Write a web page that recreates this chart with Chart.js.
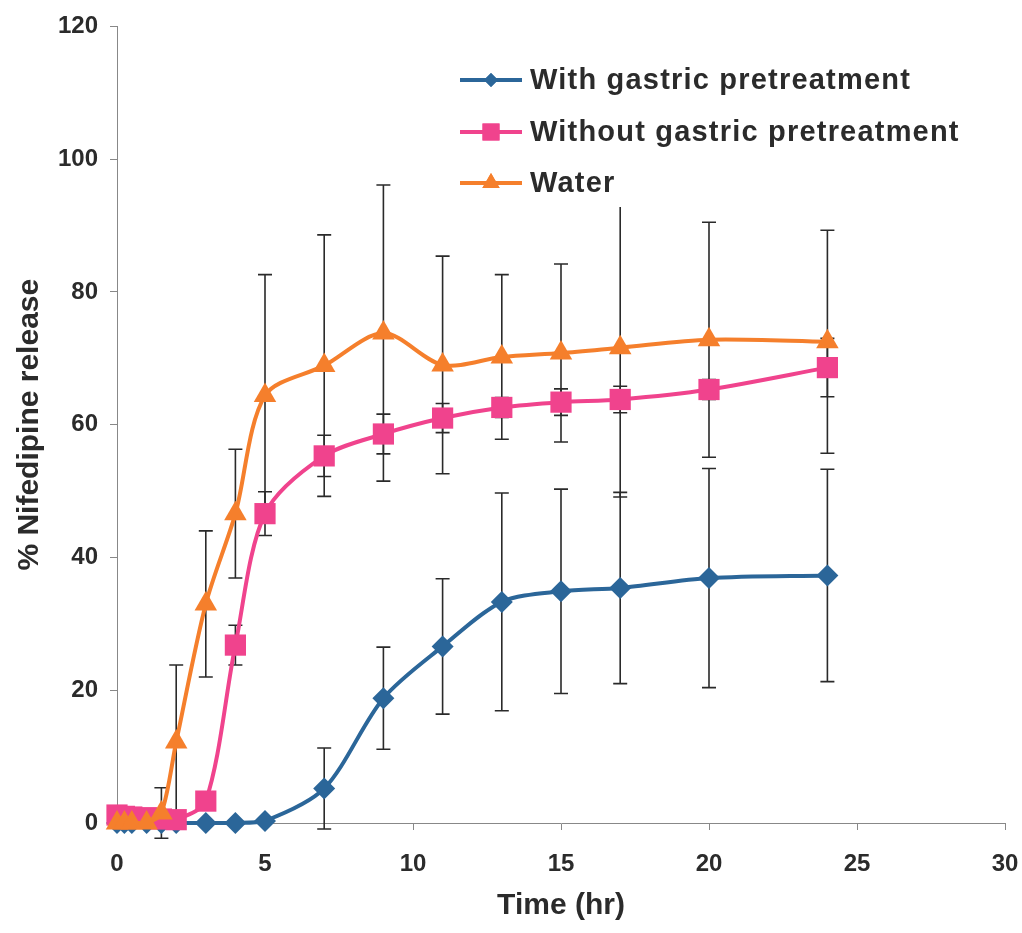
<!DOCTYPE html>
<html>
<head>
<meta charset="utf-8">
<title>Nifedipine release</title>
<script src="https://cdn.jsdelivr.net/npm/chart.js@4.4.1/dist/chart.umd.min.js"></script>
<style>
  html, body { margin: 0; padding: 0; background: #fff; }
  #wrap { width: 1022px; height: 933px; }
</style>
</head>
<body>
<div id="wrap"><canvas id="releaseChart" width="1022" height="933"></canvas></div>
<script>
// sampling times (hr)
const times = [0, 0.25, 0.5, 1, 1.5, 2, 3, 4, 5, 7, 9, 11, 13, 15, 17, 20, 24];

// % nifedipine released
const withGastric   = [0, 0, 0, 0, 0, 0, 0, 0, 0.3, 5.2, 18.8, 26.6, 33.3, 34.9, 35.4, 36.9, 37.3];
const withGastricSd = [0, 0, 0, 0, 0, 0, 0, 0, 0, 6.1, 7.7, 10.2, 16.4, 15.4, 14.4, 16.5, 16.0];

const withoutGastric   = [1.2, 1.0, 0.9, 0.8, 0.6, 0.5, 3.3, 26.8, 46.6, 55.3, 58.6, 61.0, 62.6, 63.4, 63.8, 65.3, 68.6];
const withoutGastricSd = [0, 0, 0, 0, 0, 0, 0, 3.0, 3.3, 3.1, 3.0, 2.2, 1.5, 2.0, 2.0, 1.5, 4.4];

const water   = [0, 0, 0, 0, 1.5, 12.2, 33.0, 46.6, 64.4, 68.9, 73.8, 69.0, 70.2, 70.8, 71.6, 72.8, 72.5];
const waterSd = [0, 0, 0, 0, 3.8, 11.6, 11.0, 9.7, 18.2, 19.7, 22.3, 16.4, 12.4, 13.4, 22.5, 17.7, 16.8];

const seriesNames = ['With gastric pretreatment', 'Without gastric pretreatment', 'Water'];

const FONT = "'Liberation Sans', Arial, sans-serif";
const TEXT = '#2b2b2b';

function points(vals) {
    return vals.map((v, i) => ({ x: times[i], y: v }));
}

// vertical SD bars with caps, drawn under the lines/markers
const errorBars = {
    id: 'errorBars',
    beforeDatasetsDraw(chart) {
        const { ctx, scales: { x, y } } = chart;
        ctx.save();
        ctx.strokeStyle = '#2a2a2a';
        ctx.lineWidth = 1.6;
        chart.data.datasets.forEach(ds => {
            ds.errors.forEach((e, i) => {
                if (!e) return;
                const px = x.getPixelForValue(ds.data[i].x);
                const top = y.getPixelForValue(ds.data[i].y + e);
                const bot = y.getPixelForValue(ds.data[i].y - e);
                ctx.beginPath();
                ctx.moveTo(px, top); ctx.lineTo(px, bot);
                ctx.moveTo(px - 7, top); ctx.lineTo(px + 7, top);
                ctx.moveTo(px - 7, bot); ctx.lineTo(px + 7, bot);
                ctx.stroke();
            });
        });
        ctx.restore();
    }
};

// Excel style legend: line sample with marker, white box over the plot
const lineLegend = {
    id: 'lineLegend',
    afterDraw(chart) {
        const { ctx } = chart;
        ctx.save();
        ctx.fillStyle = '#fff';
        ctx.fillRect(452, 54, 525, 153);
        const rows = [80, 132, 183];
        const legendRadius = [7, 12, 10];
        chart.data.datasets.forEach((ds, i) => {
            const yy = rows[i];
            ctx.strokeStyle = ds.borderColor;
            ctx.lineWidth = 4;
            ctx.beginPath();
            ctx.moveTo(460, yy); ctx.lineTo(522, yy);
            ctx.stroke();
            ctx.fillStyle = ds.backgroundColor;
            Chart.helpers.drawPoint(ctx, {
                pointStyle: ds.pointStyle, radius: legendRadius[i], rotation: 0, borderWidth: 0
            }, 491, yy);
            ctx.fill();
            ctx.fillStyle = TEXT;
            ctx.font = "bold 29px " + FONT;
            ctx.letterSpacing = '1.2px';
            ctx.textBaseline = 'middle';
            ctx.textAlign = 'left';
            ctx.fillText(ds.label, 530, yy + 1);
        });
        ctx.restore();
    }
};

function makeSet(label, vals, sd, color, style, radius, order) {
    return {
        label,
        data: points(vals),
        errors: sd,
        order,
        borderColor: color,
        backgroundColor: color,
        borderWidth: 4,
        pointStyle: style,
        pointRadius: radius,
        pointHoverRadius: radius,
        pointBorderWidth: 0,
        tension: 0.3,
        clip: false
    };
}

new Chart(document.getElementById('releaseChart').getContext('2d'), {
    type: 'line',
    data: {
        datasets: [
            makeSet(seriesNames[0], withGastric, withGastricSd, '#2b6699', 'rectRot', 11, 3),
            makeSet(seriesNames[1], withoutGastric, withoutGastricSd, '#f0438d', 'rect', 15, 2),
            makeSet(seriesNames[2], water, waterSd, '#f57f2c', 'triangle', 13, 1)
        ]
    },
    options: {
        responsive: false,
        animation: false,
        layout: { padding: { left: 0, top: 25, right: 17, bottom: 0 } },
        plugins: {
            legend: { display: false },
            tooltip: { enabled: false }
        },
        scales: {
            x: {
                type: 'linear',
                min: 0,
                max: 30,
                ticks: {
                    stepSize: 5,
                    maxRotation: 0,
                    padding: 20,
                    color: TEXT,
                    font: { family: FONT, size: 24, weight: 'bold' }
                },
                grid: { drawOnChartArea: false, drawTicks: true, tickLength: 7, color: '#888', lineWidth: 1 },
                border: { display: true, color: '#888', width: 1 },
                title: {
                    display: true,
                    text: 'Time (hr)',
                    color: TEXT,
                    font: { family: FONT, size: 30, weight: 'bold' },
                    padding: { top: 0, bottom: 9 }
                },
                afterFit(scale) {
                    scale.height = 110;
                    scale.paddingLeft = 0;
                    scale.paddingRight = 0;
                }
            },
            y: {
                min: 0,
                max: 120,
                ticks: {
                    stepSize: 20,
                    padding: 12,
                    color: TEXT,
                    font: { family: FONT, size: 24, weight: 'bold' }
                },
                grid: { drawOnChartArea: false, drawTicks: true, tickLength: 7, color: '#888', lineWidth: 1 },
                border: { display: true, color: '#888', width: 1 },
                title: {
                    display: true,
                    text: '% Nifedipine release',
                    color: TEXT,
                    font: { family: FONT, size: 30, weight: 'bold' },
                    padding: { top: 12, bottom: 0 }
                },
                afterFit(scale) { scale.width = 117; }
            }
        }
    },
    plugins: [errorBars, lineLegend]
});
</script>
</body>
</html>
